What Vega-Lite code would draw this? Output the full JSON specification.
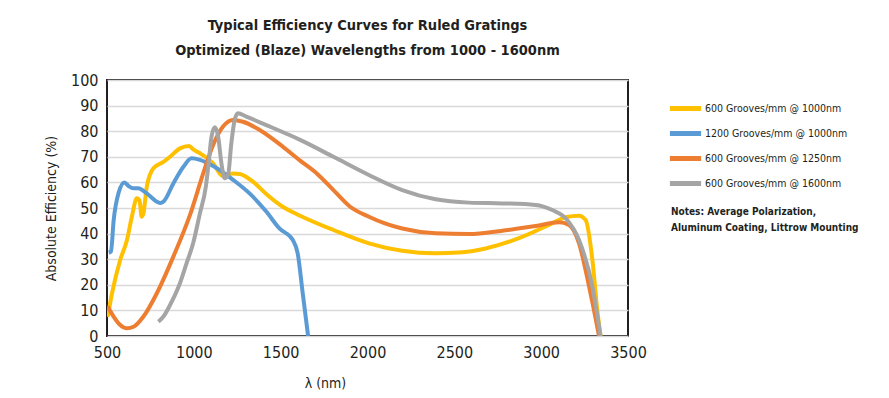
{
  "$schema": "https://vega.github.io/schema/vega-lite/v6.json",
  "autosize": "none",
  "width": 521,
  "height": 256,
  "padding": {"left": 107, "top": 80, "right": 261, "bottom": 62},
  "background": "white",
  "config": {
    "font": "DejaVu Sans Condensed",
    "view": {"stroke": "#231F20", "strokeWidth": 2},
    "axis": {"labelColor": "#231F20", "titleColor": "#231F20", "labelFont": "DejaVu Sans Condensed", "titleFont": "DejaVu Sans Condensed"},
    "legend": {"labelFont": "DejaVu Sans Condensed", "titleFont": "DejaVu Sans Condensed"}
  },
  "title": {
    "text": ["Typical Efficiency Curves for Ruled Gratings", "Optimized (Blaze) Wavelengths from 1000 - 1600nm"],
    "font": "DejaVu Sans Condensed",
    "fontSize": 14.5,
    "fontWeight": "bold",
    "color": "#231F20",
    "lineHeight": 25,
    "anchor": "middle",
    "offset": 14
  },
  "data": {
    "values": [
      {"s": "600 Grooves/mm @ 1000nm", "x": 504, "y": 7.5},
      {"s": "600 Grooves/mm @ 1000nm", "x": 529, "y": 16.7},
      {"s": "600 Grooves/mm @ 1000nm", "x": 576, "y": 29.7},
      {"s": "600 Grooves/mm @ 1000nm", "x": 615, "y": 37.5},
      {"s": "600 Grooves/mm @ 1000nm", "x": 643, "y": 46.6},
      {"s": "600 Grooves/mm @ 1000nm", "x": 672, "y": 53.8},
      {"s": "600 Grooves/mm @ 1000nm", "x": 687, "y": 53},
      {"s": "600 Grooves/mm @ 1000nm", "x": 700, "y": 46.6},
      {"s": "600 Grooves/mm @ 1000nm", "x": 710, "y": 48},
      {"s": "600 Grooves/mm @ 1000nm", "x": 729, "y": 58.3},
      {"s": "600 Grooves/mm @ 1000nm", "x": 767, "y": 65.5},
      {"s": "600 Grooves/mm @ 1000nm", "x": 825, "y": 68},
      {"s": "600 Grooves/mm @ 1000nm", "x": 863, "y": 70},
      {"s": "600 Grooves/mm @ 1000nm", "x": 920, "y": 73.3},
      {"s": "600 Grooves/mm @ 1000nm", "x": 973, "y": 74.2},
      {"s": "600 Grooves/mm @ 1000nm", "x": 996, "y": 72.9},
      {"s": "600 Grooves/mm @ 1000nm", "x": 1035, "y": 71.4},
      {"s": "600 Grooves/mm @ 1000nm", "x": 1111, "y": 67.4},
      {"s": "600 Grooves/mm @ 1000nm", "x": 1168, "y": 62.4},
      {"s": "600 Grooves/mm @ 1000nm", "x": 1226, "y": 63.5},
      {"s": "600 Grooves/mm @ 1000nm", "x": 1264, "y": 63.3},
      {"s": "600 Grooves/mm @ 1000nm", "x": 1340, "y": 60.3},
      {"s": "600 Grooves/mm @ 1000nm", "x": 1417, "y": 55.5},
      {"s": "600 Grooves/mm @ 1000nm", "x": 1512, "y": 50.5},
      {"s": "600 Grooves/mm @ 1000nm", "x": 1612, "y": 47},
      {"s": "600 Grooves/mm @ 1000nm", "x": 1804, "y": 41.4},
      {"s": "600 Grooves/mm @ 1000nm", "x": 2008, "y": 36.2},
      {"s": "600 Grooves/mm @ 1000nm", "x": 2200, "y": 33.3},
      {"s": "600 Grooves/mm @ 1000nm", "x": 2392, "y": 32.3},
      {"s": "600 Grooves/mm @ 1000nm", "x": 2526, "y": 32.6},
      {"s": "600 Grooves/mm @ 1000nm", "x": 2680, "y": 34.2},
      {"s": "600 Grooves/mm @ 1000nm", "x": 2872, "y": 38.2},
      {"s": "600 Grooves/mm @ 1000nm", "x": 3045, "y": 43.4},
      {"s": "600 Grooves/mm @ 1000nm", "x": 3141, "y": 46.4},
      {"s": "600 Grooves/mm @ 1000nm", "x": 3218, "y": 47},
      {"s": "600 Grooves/mm @ 1000nm", "x": 3256, "y": 45.3},
      {"s": "600 Grooves/mm @ 1000nm", "x": 3295, "y": 29.7},
      {"s": "600 Grooves/mm @ 1000nm", "x": 3323, "y": 10.2},
      {"s": "600 Grooves/mm @ 1000nm", "x": 3342, "y": 0},

      {"s": "1200 Grooves/mm @ 1000nm", "x": 510, "y": 32.6},
      {"s": "1200 Grooves/mm @ 1000nm", "x": 523, "y": 33},
      {"s": "1200 Grooves/mm @ 1000nm", "x": 538, "y": 45},
      {"s": "1200 Grooves/mm @ 1000nm", "x": 567, "y": 56},
      {"s": "1200 Grooves/mm @ 1000nm", "x": 600, "y": 60},
      {"s": "1200 Grooves/mm @ 1000nm", "x": 624, "y": 58.6},
      {"s": "1200 Grooves/mm @ 1000nm", "x": 653, "y": 57.7},
      {"s": "1200 Grooves/mm @ 1000nm", "x": 681, "y": 57.7},
      {"s": "1200 Grooves/mm @ 1000nm", "x": 729, "y": 55.7},
      {"s": "1200 Grooves/mm @ 1000nm", "x": 806, "y": 52},
      {"s": "1200 Grooves/mm @ 1000nm", "x": 825, "y": 52.5},
      {"s": "1200 Grooves/mm @ 1000nm", "x": 882, "y": 59.6},
      {"s": "1200 Grooves/mm @ 1000nm", "x": 939, "y": 66},
      {"s": "1200 Grooves/mm @ 1000nm", "x": 987, "y": 69.4},
      {"s": "1200 Grooves/mm @ 1000nm", "x": 1035, "y": 68.8},
      {"s": "1200 Grooves/mm @ 1000nm", "x": 1111, "y": 66.4},
      {"s": "1200 Grooves/mm @ 1000nm", "x": 1226, "y": 61},
      {"s": "1200 Grooves/mm @ 1000nm", "x": 1321, "y": 55.7},
      {"s": "1200 Grooves/mm @ 1000nm", "x": 1417, "y": 48.6},
      {"s": "1200 Grooves/mm @ 1000nm", "x": 1493, "y": 42},
      {"s": "1200 Grooves/mm @ 1000nm", "x": 1570, "y": 37.5},
      {"s": "1200 Grooves/mm @ 1000nm", "x": 1598, "y": 32.3},
      {"s": "1200 Grooves/mm @ 1000nm", "x": 1627, "y": 16.7},
      {"s": "1200 Grooves/mm @ 1000nm", "x": 1658, "y": 0},

      {"s": "600 Grooves/mm @ 1250nm", "x": 504, "y": 11.5},
      {"s": "600 Grooves/mm @ 1250nm", "x": 538, "y": 7.6},
      {"s": "600 Grooves/mm @ 1250nm", "x": 576, "y": 4.3},
      {"s": "600 Grooves/mm @ 1250nm", "x": 615, "y": 3},
      {"s": "600 Grooves/mm @ 1250nm", "x": 653, "y": 3.6},
      {"s": "600 Grooves/mm @ 1250nm", "x": 710, "y": 7.6},
      {"s": "600 Grooves/mm @ 1250nm", "x": 787, "y": 16.7},
      {"s": "600 Grooves/mm @ 1250nm", "x": 882, "y": 31},
      {"s": "600 Grooves/mm @ 1250nm", "x": 978, "y": 47.3},
      {"s": "600 Grooves/mm @ 1250nm", "x": 1054, "y": 63.5},
      {"s": "600 Grooves/mm @ 1250nm", "x": 1111, "y": 74.6},
      {"s": "600 Grooves/mm @ 1250nm", "x": 1168, "y": 81.8},
      {"s": "600 Grooves/mm @ 1250nm", "x": 1226, "y": 84.4},
      {"s": "600 Grooves/mm @ 1250nm", "x": 1283, "y": 83.7},
      {"s": "600 Grooves/mm @ 1250nm", "x": 1379, "y": 80.5},
      {"s": "600 Grooves/mm @ 1250nm", "x": 1512, "y": 74},
      {"s": "600 Grooves/mm @ 1250nm", "x": 1612, "y": 68.5},
      {"s": "600 Grooves/mm @ 1250nm", "x": 1708, "y": 63.5},
      {"s": "600 Grooves/mm @ 1250nm", "x": 1804, "y": 57},
      {"s": "600 Grooves/mm @ 1250nm", "x": 1900, "y": 50.5},
      {"s": "600 Grooves/mm @ 1250nm", "x": 2008, "y": 46.6},
      {"s": "600 Grooves/mm @ 1250nm", "x": 2100, "y": 44},
      {"s": "600 Grooves/mm @ 1250nm", "x": 2200, "y": 42},
      {"s": "600 Grooves/mm @ 1250nm", "x": 2392, "y": 40.1},
      {"s": "600 Grooves/mm @ 1250nm", "x": 2584, "y": 39.8},
      {"s": "600 Grooves/mm @ 1250nm", "x": 2776, "y": 41.1},
      {"s": "600 Grooves/mm @ 1250nm", "x": 2968, "y": 43},
      {"s": "600 Grooves/mm @ 1250nm", "x": 3103, "y": 44.4},
      {"s": "600 Grooves/mm @ 1250nm", "x": 3160, "y": 43.4},
      {"s": "600 Grooves/mm @ 1250nm", "x": 3218, "y": 36.2},
      {"s": "600 Grooves/mm @ 1250nm", "x": 3276, "y": 19.3},
      {"s": "600 Grooves/mm @ 1250nm", "x": 3323, "y": 3.6},
      {"s": "600 Grooves/mm @ 1250nm", "x": 3333, "y": 0},

      {"s": "600 Grooves/mm @ 1600nm", "x": 796, "y": 5.6},
      {"s": "600 Grooves/mm @ 1600nm", "x": 825, "y": 7.6},
      {"s": "600 Grooves/mm @ 1600nm", "x": 863, "y": 12.1},
      {"s": "600 Grooves/mm @ 1600nm", "x": 920, "y": 20.6},
      {"s": "600 Grooves/mm @ 1600nm", "x": 958, "y": 28.4},
      {"s": "600 Grooves/mm @ 1600nm", "x": 996, "y": 36.2},
      {"s": "600 Grooves/mm @ 1600nm", "x": 1035, "y": 47.9},
      {"s": "600 Grooves/mm @ 1600nm", "x": 1069, "y": 58.3},
      {"s": "600 Grooves/mm @ 1600nm", "x": 1083, "y": 66.1},
      {"s": "600 Grooves/mm @ 1600nm", "x": 1102, "y": 77.9},
      {"s": "600 Grooves/mm @ 1600nm", "x": 1121, "y": 81.5},
      {"s": "600 Grooves/mm @ 1600nm", "x": 1140, "y": 77.9},
      {"s": "600 Grooves/mm @ 1600nm", "x": 1159, "y": 67.4},
      {"s": "600 Grooves/mm @ 1600nm", "x": 1178, "y": 61.6},
      {"s": "600 Grooves/mm @ 1600nm", "x": 1197, "y": 62.9},
      {"s": "600 Grooves/mm @ 1600nm", "x": 1216, "y": 75.3},
      {"s": "600 Grooves/mm @ 1600nm", "x": 1235, "y": 84.4},
      {"s": "600 Grooves/mm @ 1600nm", "x": 1254, "y": 87},
      {"s": "600 Grooves/mm @ 1600nm", "x": 1302, "y": 85.7},
      {"s": "600 Grooves/mm @ 1600nm", "x": 1417, "y": 82.4},
      {"s": "600 Grooves/mm @ 1600nm", "x": 1551, "y": 78.5},
      {"s": "600 Grooves/mm @ 1600nm", "x": 1612, "y": 76.6},
      {"s": "600 Grooves/mm @ 1600nm", "x": 1804, "y": 70},
      {"s": "600 Grooves/mm @ 1600nm", "x": 2008, "y": 62.9},
      {"s": "600 Grooves/mm @ 1600nm", "x": 2200, "y": 57},
      {"s": "600 Grooves/mm @ 1600nm", "x": 2392, "y": 53.4},
      {"s": "600 Grooves/mm @ 1600nm", "x": 2584, "y": 52.1},
      {"s": "600 Grooves/mm @ 1600nm", "x": 2776, "y": 51.8},
      {"s": "600 Grooves/mm @ 1600nm", "x": 2968, "y": 51.2},
      {"s": "600 Grooves/mm @ 1600nm", "x": 3064, "y": 49.2},
      {"s": "600 Grooves/mm @ 1600nm", "x": 3141, "y": 46},
      {"s": "600 Grooves/mm @ 1600nm", "x": 3218, "y": 37.5},
      {"s": "600 Grooves/mm @ 1600nm", "x": 3295, "y": 19.3},
      {"s": "600 Grooves/mm @ 1600nm", "x": 3342, "y": 0}
    ]
  },
  "mark": {"type": "line", "strokeWidth": 4, "interpolate": "monotone", "clip": true},
  "encoding": {
    "x": {
      "field": "x", "type": "quantitative",
      "scale": {"domain": [500, 3500], "nice": false},
      "axis": {
        "values": [500, 1000, 1500, 2000, 2500, 3000, 3500],
        "format": "d",
        "grid": false, "ticks": false, "domain": false,
        "labelFontSize": 16, "labelPadding": 8, "labelFlush": false,
        "title": "λ (nm)", "titleFontSize": 14, "titleFontWeight": "normal",
        "titleX": 218, "titleY": 47, "titleAnchor": "middle", "titleBaseline": "middle"
      }
    },
    "y": {
      "field": "y", "type": "quantitative",
      "scale": {"domain": [0, 100], "nice": false},
      "axis": {
        "values": [0, 10, 20, 30, 40, 50, 60, 70, 80, 90, 100],
        "grid": true, "gridColor": "#D9D9D9", "gridWidth": 1.5,
        "ticks": false, "domain": false,
        "labelFontSize": 16, "labelPadding": 9,
        "title": "Absolute Efficiency (%)", "titleFontSize": 14, "titleFontWeight": "normal",
        "titlePadding": 12
      }
    },
    "color": {
      "field": "s", "type": "nominal",
      "scale": {
        "domain": ["600 Grooves/mm @ 1000nm", "1200 Grooves/mm @ 1000nm", "600 Grooves/mm @ 1250nm", "600 Grooves/mm @ 1600nm"],
        "range": ["#FFC000", "#5B9BD5", "#ED7D31", "#A5A5A5"]
      },
      "legend": {
        "orient": "none", "legendX": 564, "legendY": 14,
        "symbolType": "M-1.3,0H1.3", "symbolStrokeWidth": 5, "symbolSize": 576,
        "symbolFillColor": "transparent",
        "labelFontSize": 10.5, "labelColor": "#231F20", "labelOffset": 5,
        "rowPadding": 0,
        "title": ["Notes: Average Polarization,", "Aluminum Coating, Littrow Mounting"],
        "titleOrient": "bottom", "titleFontSize": 10, "titleFontWeight": "bold",
        "titleColor": "#231F20", "titlePadding": 13, "titleLineHeight": 16,
        "titleLimit": 300
      }
    },
    "order": {"field": "x", "type": "quantitative"}
  }
}
